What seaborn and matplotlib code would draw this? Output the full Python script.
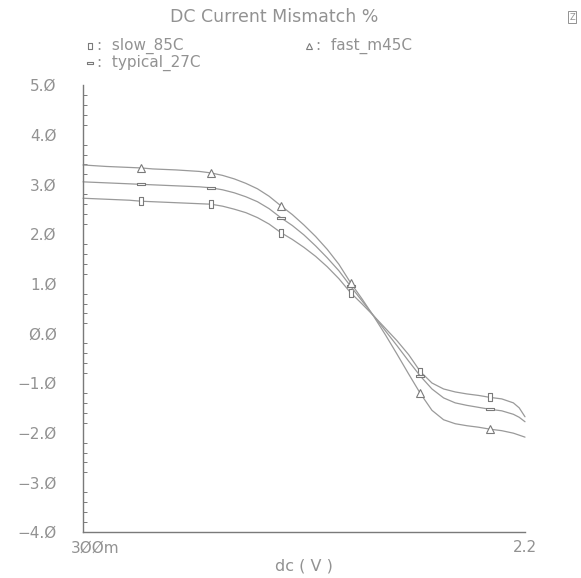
import matplotlib
matplotlib.use('Agg')
import matplotlib.pyplot as plt
from matplotlib.lines import Line2D
from matplotlib.transforms import ScaledTranslation
import pandas as pd
import seaborn as sns

#%% DATOS

dc = [0.3, 0.4, 0.5, 0.55, 0.6, 0.7, 0.8, 0.85, 0.9, 0.95, 1.0, 1.05, 1.1,
      1.15, 1.2, 1.25, 1.3, 1.35, 1.4, 1.45, 1.5, 1.55, 1.6, 1.65, 1.7, 1.75,
      1.8, 1.85, 1.9, 1.95, 2.0, 2.05, 2.1, 2.15, 2.175, 2.2]

slow_85C = [2.72, 2.70, 2.68, 2.66, 2.65, 2.63, 2.61, 2.60, 2.56, 2.50, 2.43,
            2.33, 2.20, 2.03, 1.89, 1.73, 1.55, 1.34, 1.10, 0.82, 0.59, 0.35,
            0.10, -0.15, -0.43, -0.77, -1.00, -1.12, -1.18, -1.22, -1.25,
            -1.29, -1.32, -1.40, -1.50, -1.68]

typical_27C = [3.05, 3.03, 3.01, 3.00, 2.99, 2.97, 2.95, 2.93, 2.89, 2.83,
               2.75, 2.65, 2.51, 2.33, 2.17, 1.98, 1.76, 1.52, 1.26, 0.95,
               0.65, 0.35, 0.05, -0.25, -0.56, -0.86, -1.12, -1.30, -1.40,
               -1.45, -1.49, -1.53, -1.56, -1.63, -1.69, -1.78]

fast_m45C = [3.39, 3.36, 3.34, 3.33, 3.31, 3.29, 3.26, 3.23, 3.18, 3.11, 3.02,
             2.91, 2.76, 2.57, 2.39, 2.18, 1.95, 1.69, 1.39, 1.02, 0.69, 0.34,
             -0.03, -0.42, -0.82, -1.21, -1.55, -1.74, -1.82, -1.86, -1.89,
             -1.93, -1.96, -2.01, -2.05, -2.09]

idx_marcas = [3, 7, 13, 19, 25, 31]   # dc = 0.55, 0.85, 1.15, 1.45, 1.75, 2.05

datos = pd.DataFrame({'dc': dc, 'slow_85C': slow_85C,
                      'typical_27C': typical_27C, 'fast_m45C': fast_m45C})

#%% ESTILO

gris = '#929292'
gris_linea = '#9a9a9a'
gris_eje = '#7a7a7a'

sns.set_style('white')
plt.rcParams['font.family'] = ['DejaVu Sans']

m_slow = [(-0.5, -1), (0.5, -1), (0.5, 1), (-0.5, 1), (-0.5, -1)]
m_typ = [(-1, -0.35), (1, -0.35), (1, 0.35), (-1, 0.35), (-1, -0.35)]

series = [('slow_85C', m_slow, 6.0), ('typical_27C', m_typ, 5.5),
          ('fast_m45C', '^', 6.0)]

fig = plt.figure(figsize=(5.81, 5.78), dpi=100)
ax = fig.add_axes([83/581, 46/578, 442/581, 447/578])

for nombre, marca, tam in series:
    sns.lineplot(x='dc', y=nombre, data=datos, ax=ax, color=gris_linea,
                 linewidth=0.9, marker=marca, markersize=tam,
                 markevery=idx_marcas, markerfacecolor='white',
                 markeredgecolor=gris_eje, markeredgewidth=0.8,
                 clip_on=False, legend=False)

#%% EJES

ax.set_xlim(0.3, 2.2)
ax.set_ylim(-4.0, 5.0)
for lado in ['top', 'right']:
    ax.spines[lado].set_visible(False)
for lado in ['left', 'bottom']:
    ax.spines[lado].set_color(gris_eje)
    ax.spines[lado].set_linewidth(1.0)

xt = [0.3 + 0.19*k for k in range(11)]
ax.set_xticks(xt)
ax.set_xticklabels(['3ØØm'] + ['']*9 + ['2.2'])
ax.set_yticks([5.0, 4.0, 3.0, 2.0, 1.0, 0.0, -1.0, -2.0, -3.0, -4.0])
ax.set_yticklabels(['5.Ø', '4.Ø', '3.Ø', '2.Ø', '1.Ø', 'Ø.Ø', '−1.Ø', '−2.Ø',
                    '−3.Ø', '−4.Ø'])
ax.set_yticks([-4.0 + 0.2*k for k in range(46)], minor=True)
ax.tick_params(axis='x', direction='in', length=5, width=0.8, color=gris_eje,
               labelsize=11, labelcolor=gris, pad=6)
ax.tick_params(axis='y', which='major', direction='in', length=6, width=0.8,
               color=gris_eje, labelsize=11, labelcolor=gris, pad=19)
ax.tick_params(axis='y', which='minor', direction='in', length=3, width=0.7,
               color=gris_eje, left=True)
etq0 = ax.xaxis.get_majorticklabels()[0]
etq0.set_transform(etq0.get_transform()
                   + ScaledTranslation(12/100, 0, fig.dpi_scale_trans))
ax.set_xlabel('dc ( V )', color=gris, fontsize=11.5, labelpad=2)
ax.set_ylabel('')

#%% TITULO Y LEYENDA

fig.text(274/581, 1 - 17/578, 'DC Current Mismatch %', ha='center',
         va='center', color=gris, fontsize=12.5)
fig.text(572/581, 1 - 17/578, 'Z', ha='center', va='center', color=gris,
         fontsize=6, bbox=dict(boxstyle='square,pad=0.15', fc='white',
                               ec=gris, lw=0.7))

leyenda = [(90, 46, m_slow, 5.0, ':  slow_85C'),
           (90, 63, m_typ, 4.5, ':  typical_27C'),
           (309, 46, '^', 5.0, ':  fast_m45C')]
for px, py, marca, tam, texto in leyenda:
    fig.add_artist(Line2D([px/581], [1 - py/578], marker=marca,
                          markersize=tam, markerfacecolor='white',
                          markeredgecolor=gris_eje, markeredgewidth=0.8,
                          linestyle='none', transform=fig.transFigure))
    fig.text((px + 7)/581, 1 - py/578, texto, ha='left', va='center',
             color=gris, fontsize=11)

fig.savefig('out.png', dpi=100)
